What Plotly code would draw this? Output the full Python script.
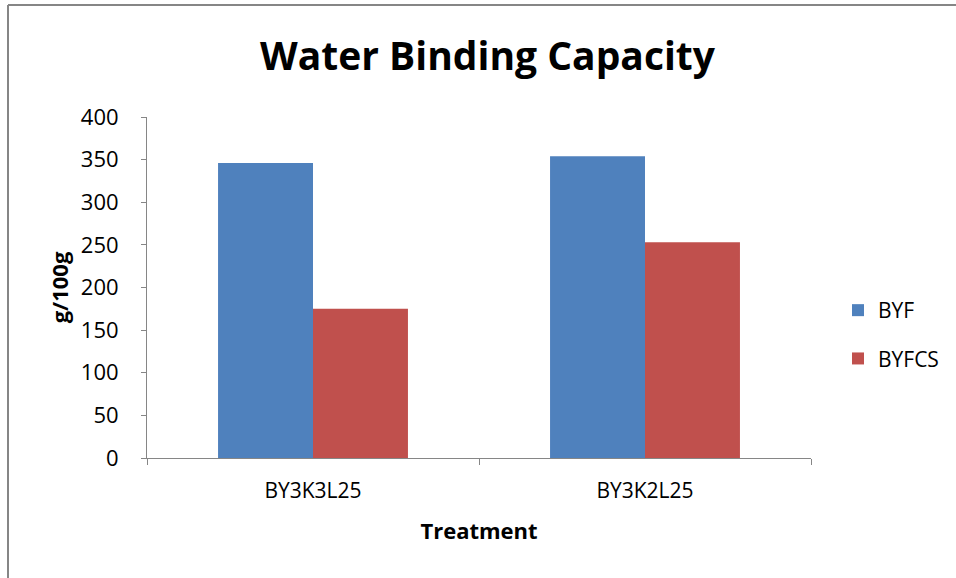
import plotly.graph_objects as go

categories = ["BY3K3L25", "BY3K2L25"]
byf = [346, 354]
byfcs = [175, 253]
series_names = ["BYF", "BYFCS"]
y_ticks = [0, 50, 100, 150, 200, 250, 300, 350, 400]

W, H = 956, 578
L, R, T, B = 147, 811, 117, 458  # plot area in pixels

def px_x(p):
    return (p - L) / (R - L)

def px_y(q):
    return (B - q) / (B - T)

FONT = "Open Sans"
axis_col = "#868686"

fig = go.Figure()
fig.add_trace(go.Bar(x=categories, y=byf, name=series_names[0], marker=dict(color="#4F81BD", line=dict(width=0)), legendgroup="a"))
fig.add_trace(go.Bar(x=categories, y=byfcs, name=series_names[1], marker=dict(color="#C0504D", line=dict(width=0)), legendgroup="b"))

fig.update_layout(
    width=W, height=H,
    margin=dict(l=L, r=W - R, t=T, b=H - B, pad=0),
    paper_bgcolor="white", plot_bgcolor="white",
    barmode="group", bargap=0.428, bargroupgap=0,
    font=dict(family=FONT, color="black", size=21),
    title=dict(text="<b>Water Binding Capacity</b>", font=dict(family=FONT, size=39, color="black"),
               x=px_x(487.5), xref="paper", xanchor="center", y=1 - 56 / H, yref="container", yanchor="middle"),
    showlegend=True,
    legend=dict(x=px_x(838), y=px_y(290), xanchor="left", yanchor="top", font=dict(size=21, family=FONT),
                traceorder="grouped", tracegroupgap=18, bgcolor="rgba(0,0,0,0)"),
    xaxis=dict(showline=True, linecolor=axis_col, linewidth=1, ticks="outside", tickson="boundaries",
               ticklen=6, tickcolor=axis_col, showgrid=False, tickfont=dict(size=21),
               ticklabelstandoff=14,
               title=dict(text="<b>Treatment</b>", font=dict(size=22), standoff=20)),
    yaxis=dict(range=[0, 400], tickvals=y_ticks, showline=True, linecolor=axis_col, linewidth=1,
               ticks="outside", ticklen=5, tickcolor=axis_col, showgrid=False, zeroline=False,
               tickfont=dict(size=22), ticklabelstandoff=18,
               title=dict(text="<b>g/100g</b>", font=dict(size=22), standoff=6)),
)

# outer chart border (top and left visible)
fig.add_shape(type="line", xref="paper", yref="paper", x0=px_x(8), x1=px_x(1000), y0=px_y(5), y1=px_y(5),
              line=dict(color=axis_col, width=2))
fig.add_shape(type="line", xref="paper", yref="paper", x0=px_x(8), x1=px_x(8), y0=px_y(5), y1=px_y(620),
              line=dict(color=axis_col, width=2))

fig.write_html("out.html")
